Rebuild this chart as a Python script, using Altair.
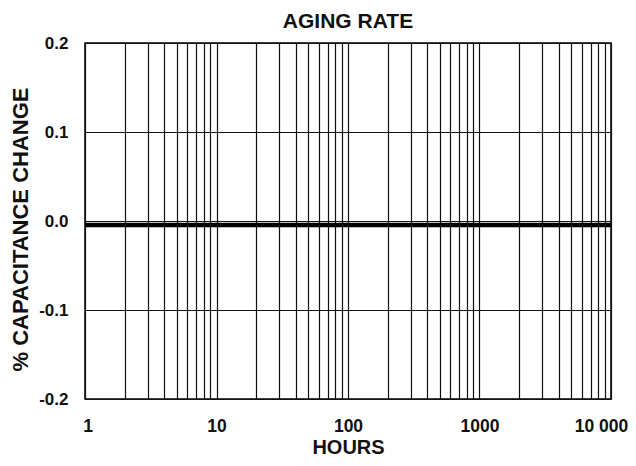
import altair as alt
import pandas as pd

# Data
hours = [1, 10000]
cap_change = [-0.0045, -0.0045]

x_grid = [m * 10 ** k for k in range(4) for m in range(1, 10)] + [10000]
x_labels = [1, 10, 100, 1000, 10000]
y_ticks = [-0.2, -0.1, 0.0, 0.1, 0.2]

df = pd.DataFrame({"hours": hours, "change": cap_change})

FONT = "Liberation Sans"

chart = (
    alt.Chart(df)
    .mark_line(color="black", strokeWidth=4.5, clip=True)
    .encode(
        x=alt.X(
            "hours:Q",
            scale=alt.Scale(type="log", domain=[1, 10000], nice=False),
            axis=alt.Axis(
                values=x_grid,
                title="HOURS",
                labelExpr="datum.value == 10000 ? '10 000' : (indexof([1,10,100,1000], datum.value) >= 0 ? format(datum.value, 'd') : '')",
                labelFlush=False,
                labelOffset={"expr": "datum.value == 10000 ? -10 : (datum.value == 1 ? 2.5 : 0)"},
                ticks=False,
                labelPadding=18,
                titlePadding=3,
                labelFontSize=17.5,
                titleFontSize=20,
                domain=False,
            ),
        ),
        y=alt.Y(
            "change:Q",
            scale=alt.Scale(domain=[-0.2, 0.2], nice=False, zero=False),
            axis=alt.Axis(
                values=y_ticks,
                labelExpr="datum.value < 0 ? '-' + format(-datum.value, '.1f') : format(datum.value, '.1f')",
                title="% CAPACITANCE CHANGE",
                titleY=186,
                ticks=False,
                labelPadding=17,
                titlePadding=6,
                labelFontSize=17,
                titleFontSize=22,
                domain=False,
            ),
        ),
    )
    .properties(
        width=526,
        height=356,
        title=alt.TitleParams("AGING RATE", fontSize=21, font=FONT, fontWeight="bold",
                              color="#111", offset=2, frame="group"),
        autosize=alt.AutoSizeParams(type="none"),
        padding={"left": 77, "top": 35, "right": 17, "bottom": 59},
    )
    .configure_axis(
        labelFont=FONT,
        titleFont=FONT,
        labelFontWeight="bold",
        titleFontWeight="bold",
        labelColor="#111",
        titleColor="#111",
        gridColor="#111",
        gridOpacity=1,
        gridWidth=1.2,
    )
    .configure_view(stroke="black", strokeWidth=1.5)
)

chart.save("out.html", embed_options={"renderer": "svg", "actions": False})
